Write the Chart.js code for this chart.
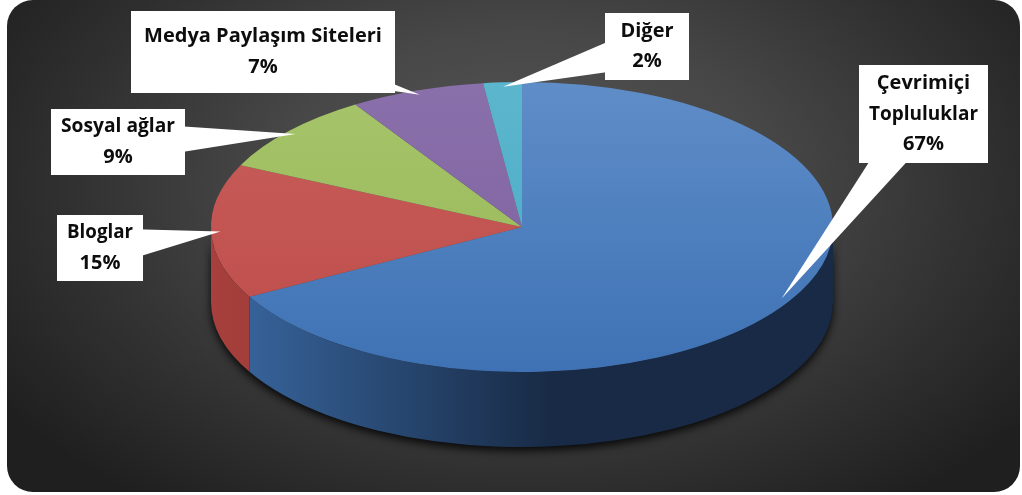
<!DOCTYPE html>
<html><head><meta charset="utf-8">
<script src="https://cdn.jsdelivr.net/npm/chart.js@4.4.0/dist/chart.umd.min.js"></script>
<style>
html,body{margin:0;padding:0;background:#fff;width:1022px;height:495px;overflow:hidden;}
#bg{position:absolute;left:7px;top:0;width:1013px;height:492px;border-radius:26px;
 background:radial-gradient(ellipse 62% 80% at 51% 38%, #575757 0%, #474747 40%, #313131 72%, #1f1f1f 100%);}
#wrap{position:absolute;left:0;top:0;width:1022px;height:495px;}
</style></head>
<body><div id="bg"></div><div id="wrap"><canvas id="c" width="1022" height="495"></canvas></div>
<script>
// ---- data ----
const categories = ['Çevrimiçi Topluluklar', 'Bloglar', 'Sosyal ağlar', 'Medya Paylaşım Siteleri', 'Diğer'];
const labelLines = [['Çevrimiçi', 'Topluluklar'], ['Bloglar'], ['Sosyal ağlar'], ['Medya Paylaşım Siteleri'], ['Diğer']];
const shares = [67, 15, 9, 7, 2];

// ---- style ----
const topLight = ['#5f8dc8', '#c85e5b', '#a6c46a', '#8a70ab', '#5cb6cd'];
const topBase  = ['#3e72b4', '#bd4c49', '#97b756', '#7c5f9e', '#47a9c3'];
const sideL    = ['#3a69a3', '#a8403d', '#7f9a45', '#634a80', '#3a8ca0'];
const sideR    = ['#182a45', '#6e2826', '#55682d', '#3f2f52', '#235766'];
const TILT = 145 / 311;
const DEPTH = 75;
const boxes = [
  {x: 859, y: 65, w: 129, h: 98},
  {x: 57, y: 215, w: 86, h: 66},
  {x: 51, y: 109, w: 134, h: 66},
  {x: 131, y: 11, w: 264, h: 82},
  {x: 605, y: 13, w: 84, h: 67}
];

function frontRanges(s, e) {
  const out = [];
  for (const base of [0, 2 * Math.PI]) {
    const a = Math.max(s, base), b = Math.min(e, base + Math.PI);
    if (b > a) out.push([a, b]);
  }
  return out;
}

const pie3d = {
  id: 'pie3d',
  beforeDatasetsDraw(chart) {
    const ctx = chart.ctx;
    const meta = chart.getDatasetMeta(0);
    const a0 = meta.data[0];
    const cx = a0.x, cy = a0.y, r = a0.outerRadius, ry = r * TILT;
    ctx.save();
    ctx.beginPath();
    ctx.ellipse(cx, cy, r, ry, 0, 0, Math.PI, false);
    ctx.ellipse(cx, cy + DEPTH, r, ry, 0, Math.PI, 0, true);
    ctx.closePath();
    ctx.shadowColor = 'rgba(0,0,0,0.85)';
    ctx.shadowBlur = 9;
    ctx.shadowOffsetY = 4;
    ctx.fillStyle = '#10151c';
    ctx.fill();
    ctx.restore();
    meta.data.forEach((arc, i) => {
      frontRanges(arc.startAngle, arc.endAngle).forEach(([a, b]) => {
        ctx.save();
        ctx.beginPath();
        ctx.ellipse(cx, cy, r, ry, 0, a, b, false);
        ctx.ellipse(cx, cy + DEPTH, r, ry, 0, b, a, true);
        ctx.closePath();
        const g = ctx.createLinearGradient(cx - r, 0, cx + r, 0);
        g.addColorStop(0, sideL[i]);
        g.addColorStop(0.55, sideR[i]);
        g.addColorStop(1, sideR[i]);
        ctx.fillStyle = g;
        ctx.fill();
        ctx.restore();
      });
    });
    ctx.save();
    ctx.translate(cx, cy);
    ctx.scale(1, TILT);
    ctx.translate(-cx, -cy);
  },
  afterDatasetsDraw(chart) {
    chart.ctx.restore();
  },
  afterDraw(chart) {
    const ctx = chart.ctx;
    const meta = chart.getDatasetMeta(0);
    const total = shares.reduce((s, v) => s + v, 0);
    meta.data.forEach((arc, i) => {
      const cx = arc.x, cy = arc.y, r = arc.outerRadius, ry = r * TILT;
      const mid = (arc.startAngle + arc.endAngle) / 2;
      const tx = cx + r * 0.97 * Math.cos(mid), ty = cy + ry * 0.97 * Math.sin(mid);
      const b = boxes[i];
      const bx = b.x + b.w / 2, by = b.y + b.h / 2;
      const dx = tx - bx, dy = ty - by, len = Math.hypot(dx, dy);
      const nx = -dy / len, ny = dx / len, hw = 20;
      ctx.save();
      ctx.fillStyle = '#fff';
      ctx.beginPath();
      ctx.moveTo(bx + nx * hw, by + ny * hw);
      ctx.lineTo(tx, ty);
      ctx.lineTo(bx - nx * hw, by - ny * hw);
      ctx.closePath();
      ctx.fill();
      ctx.fillRect(b.x, b.y, b.w, b.h);
      const lines = labelLines[i].concat([Math.round(shares[i] / total * 100) + '%']);
      ctx.fillStyle = '#0d0d0d';
      ctx.font = 'bold 20px "Open Sans", "Liberation Sans", sans-serif';
      ctx.textAlign = 'center';
      ctx.textBaseline = 'middle';
      const lh = 30.5;
      const y0 = by - (lines.length - 1) * lh / 2;
      lines.forEach((t, k) => ctx.fillText(t, bx, y0 + k * lh, b.w - 20));
      ctx.restore();
    });
  }
};

new Chart(document.getElementById('c'), {
  type: 'pie',
  data: {
    labels: categories,
    datasets: [{
      data: shares,
      borderWidth: 0,
      clip: false,
      backgroundColor: (c) => {
        const ch = c.chart, a = ch.chartArea;
        if (!a) return topBase[c.dataIndex];
        const cy = (a.top + a.bottom) / 2;
        const g = ch.ctx.createLinearGradient(0, cy - 311, 0, cy + 311);
        g.addColorStop(0, topLight[c.dataIndex]);
        g.addColorStop(1, topBase[c.dataIndex]);
        return g;
      }
    }]
  },
  options: {
    responsive: false,
    animation: false,
    radius: 311,
    layout: {padding: {left: 22, right: 0, top: 0, bottom: 41}},
    plugins: {legend: {display: false}, tooltip: {enabled: false}, title: {display: false}}
  },
  plugins: [pie3d]
});
</script>
</body></html>
